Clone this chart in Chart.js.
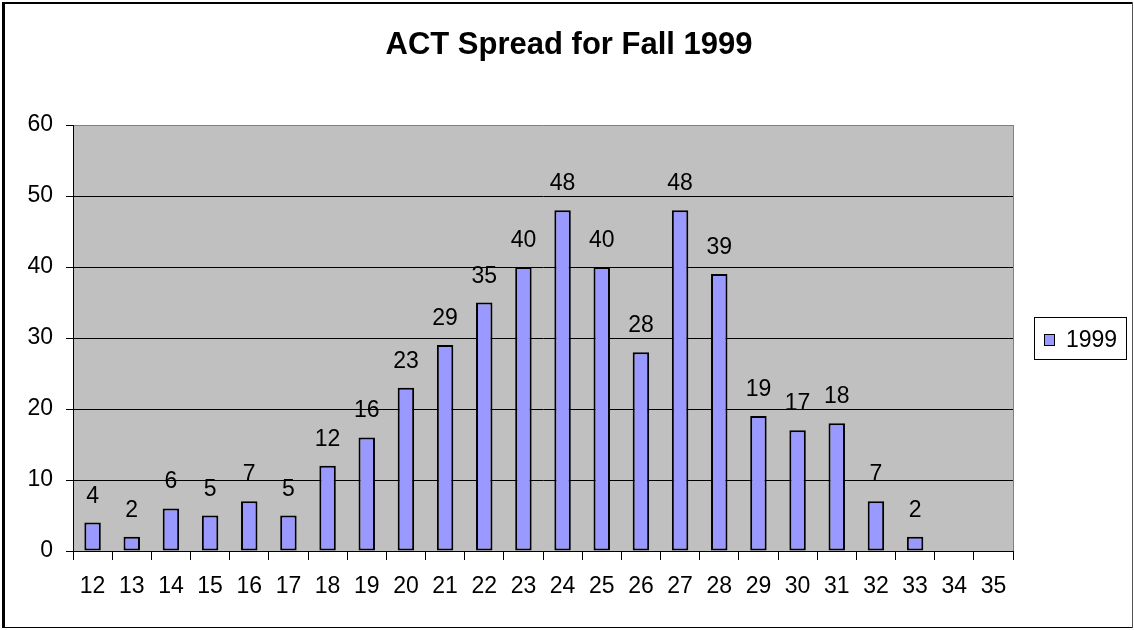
<!DOCTYPE html>
<html>
<head>
<meta charset="utf-8">
<script src="https://cdn.jsdelivr.net/npm/chart.js@4/dist/chart.umd.min.js"></script>
<style>
  html, body { margin: 0; padding: 0; background: #ffffff; }
  #wrap { width: 1134px; height: 630px; position: relative; }
</style>
</head>
<body>
<div id="wrap"><canvas id="c" width="1134" height="630"></canvas></div>
<script>
const chartTitle = 'ACT Spread for Fall 1999';
const categories = ['12','13','14','15','16','17','18','19','20','21','22','23','24','25','26','27','28','29','30','31','32','33','34','35'];
const seriesLabel = '1999';
const seriesValues = [4, 2, 6, 5, 7, 5, 12, 16, 23, 29, 35, 40, 48, 40, 28, 48, 39, 19, 17, 18, 7, 2, null, null];
const yTicks = [0, 10, 20, 30, 40, 50, 60];

const FONT = "'Liberation Sans', Arial, sans-serif";
const BAR_FILL = '#9999FF';

const decorPlugin = {
  id: 'decor',
  beforeDraw(chart) {
    const ctx = chart.ctx;
    const a = chart.chartArea;
    ctx.save();
    ctx.fillStyle = '#ffffff';
    ctx.fillRect(0, 0, chart.width, chart.height);
    ctx.fillStyle = '#C0C0C0';
    ctx.fillRect(a.left, a.top, a.right - a.left, a.bottom - a.top);
    ctx.restore();
  },
  afterDatasetsDraw(chart) {
    const ctx = chart.ctx;
    const meta = chart.getDatasetMeta(0);
    const data = chart.data.datasets[0].data;
    ctx.save();
    ctx.font = '23px ' + FONT;
    ctx.fillStyle = '#000000';
    ctx.textAlign = 'center';
    ctx.textBaseline = 'alphabetic';
    meta.data.forEach((bar, i) => {
      const v = data[i];
      if (v === null || v === undefined) return;
      ctx.fillText(String(v), bar.x, bar.y - 20);
    });
    ctx.restore();
  },
  afterDraw(chart) {
    const ctx = chart.ctx;
    const a = chart.chartArea;
    ctx.save();
    // plot area right edge (gray)
    ctx.strokeStyle = '#808080';
    ctx.lineWidth = 1;
    ctx.beginPath();
    ctx.moveTo(Math.round(a.right) + 0.5, a.top);
    ctx.lineTo(Math.round(a.right) + 0.5, a.bottom);
    ctx.stroke();

    // title
    ctx.fillStyle = '#000000';
    ctx.font = 'bold 31px ' + FONT;
    ctx.textAlign = 'center';
    ctx.textBaseline = 'alphabetic';
    ctx.fillText(chartTitle, 569, 54);

    // legend
    ctx.strokeStyle = '#000000';
    ctx.lineWidth = 1;
    ctx.strokeRect(1034.5, 317.5, 92, 42);
    ctx.fillStyle = BAR_FILL;
    ctx.fillRect(1044.5, 334.5, 10, 11);
    ctx.strokeRect(1044.5, 334.5, 10, 11);
    ctx.fillStyle = '#000000';
    ctx.font = '23px ' + FONT;
    ctx.textAlign = 'left';
    ctx.fillText(chart.data.datasets[0].label, 1066, 347);

    // outer chart border
    ctx.fillStyle = '#000000';
    ctx.fillRect(2, 2, 3, 626);
    ctx.fillRect(2, 2, 1131, 2);
    ctx.fillRect(2, 627, 1131, 1);
    ctx.fillStyle = '#555555';
    ctx.fillRect(1132, 2, 1, 626);
    ctx.restore();
  }
};

new Chart(document.getElementById('c'), {
  type: 'bar',
  data: {
    labels: categories,
    datasets: [{
      label: seriesLabel,
      data: seriesValues,
      backgroundColor: BAR_FILL,
      borderColor: '#000000',
      borderWidth: 2,
      borderSkipped: false,
      barPercentage: 0.42,
      categoryPercentage: 1.0
    }]
  },
  plugins: [decorPlugin],
  options: {
    responsive: false,
    animation: false,
    devicePixelRatio: 1,
    layout: { padding: { top: 125, right: 121, left: 0, bottom: 0 } },
    plugins: {
      legend: { display: false },
      title: { display: false },
      tooltip: { enabled: false }
    },
    scales: {
      x: {
        offset: true,
        grid: {
          offset: true,
          drawOnChartArea: false,
          drawTicks: true,
          tickLength: 9,
          color: '#000000',
          lineWidth: 1
        },
        border: { display: true, color: '#000000', width: 1 },
        ticks: {
          color: '#000000',
          font: { family: FONT, size: 23 },
          padding: 13,
          maxRotation: 0,
          autoSkip: false
        },
        afterFit(scale) { scale.height = 79; }
      },
      y: {
        min: 0,
        max: 60,
        afterBuildTicks(scale) { scale.ticks = yTicks.map(v => ({ value: v })); },
        grid: {
          color: (ctx) => (ctx.tick && ctx.tick.value === 60) ? '#808080' : '#000000',
          lineWidth: 1,
          drawTicks: true,
          tickLength: 7,
          tickColor: '#000000'
        },
        border: { display: true, color: '#000000', width: 1 },
        ticks: {
          color: '#000000',
          font: { family: FONT, size: 23 },
          padding: 13
        },
        afterFit(scale) { scale.width = 73; }
      }
    }
  }
});
</script>
</body>
</html>
